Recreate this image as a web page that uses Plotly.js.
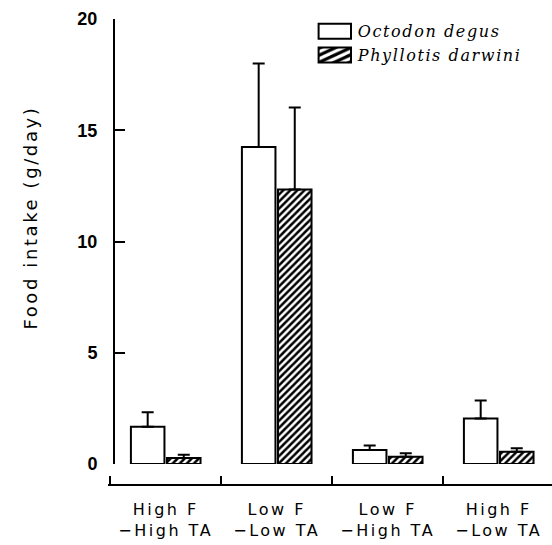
<!DOCTYPE html>
<html>
<head>
<meta charset="utf-8">
<script src="https://cdn.plot.ly/plotly-3.0.1.min.js"></script>
<style>
html,body{margin:0;padding:0;background:#fff;}
#chart{width:552px;height:545px;}
.ylabeltext{letter-spacing:2.6px;}
g.xtick text{letter-spacing:2.5px;}
.legendtext{letter-spacing:1.6px;}
</style>
</head>
<body>
<div id="chart"></div>
<script>
// Data
const categories = ["High F<br>\u2212High TA", "Low F<br>\u2212Low TA", "Low F<br>\u2212High TA", "High F<br>\u2212Low TA"];
const seriesNames = ["Octodon degus", "Phyllotis darwini"];
const octodonValues = [1.68, 14.25, 0.63, 2.05];
const octodonErrors = [0.65, 3.75, 0.20, 0.80];
const phyllotisValues = [0.27, 12.34, 0.33, 0.55];
const phyllotisErrors = [0.15, 3.68, 0.15, 0.16];
const yTickVals = [0, 5, 10, 15, 20];
const yAxisTitle = 'Food intake (g/day)';

const zeros = categories.map(() => 0);

const traceO = {
  type: 'bar', name: seriesNames[0], x: categories, y: octodonValues,
  marker: {color: 'white', line: {color: 'black', width: 2}},
  error_y: {type: 'data', symmetric: false, array: octodonErrors, arrayminus: zeros,
            color: 'black', thickness: 2, width: 6}
};
const traceP = {
  type: 'bar', name: seriesNames[1], x: categories, y: phyllotisValues,
  marker: {color: 'white', line: {color: 'black', width: 2},
           pattern: {shape: '/', bgcolor: 'white', fgcolor: 'black', size: 5, solidity: 0.5}},
  error_y: {type: 'data', symmetric: false, array: phyllotisErrors, arrayminus: zeros,
            color: 'black', thickness: 2, width: 6}
};

const layout = {
  width: 552, height: 545,
  margin: {l: 108, r: 0, t: 19, b: 60},
  paper_bgcolor: 'white', plot_bgcolor: 'white',
  barmode: 'group', bargap: 0.35, bargroupgap: 0.07,
  showlegend: true,
  legend: {x: 0.45, y: 1.01, xanchor: 'left', yanchor: 'top', bgcolor: 'rgba(0,0,0,0)',
           font: {family: 'DejaVu Serif', size: 16, color: 'black', style: 'italic'},
           tracegroupgap: 0, itemwidth: 40},
  xaxis: {
    type: 'category', range: [-0.52, 3.48], domain: [0, 1],
    anchor: 'free', position: 0,
    showline: true, linecolor: 'black', linewidth: 2,
    tickson: 'boundaries', ticks: 'inside', ticklen: 8, tickwidth: 2, tickcolor: 'black',
    ticklabelstandoff: 10,
    tickfont: {family: 'DejaVu Sans', size: 16, color: 'black'},
    showgrid: false, zeroline: false, fixedrange: true
  },
  yaxis: {
    range: [0, 20], domain: [0.045, 1], anchor: 'free', position: 0.0135,
    tickvals: yTickVals, ticktext: yTickVals.map(String),
    showline: true, linecolor: 'black', linewidth: 2,
    ticks: 'inside', ticklen: 10, tickwidth: 2, tickcolor: 'black',
    ticklabelstandoff: 12,
    tickfont: {family: 'Liberation Sans', size: 18, color: 'black', weight: 'bold'},
    showgrid: false, zeroline: false, fixedrange: true
  },
  annotations: [{
    text: yAxisTitle, xref: 'paper', yref: 'paper', x: -0.176, y: 0.575,
    xanchor: 'center', yanchor: 'middle', textangle: -90, showarrow: false,
    font: {family: 'DejaVu Sans', size: 18, color: 'black'}
  }]
};

Plotly.newPlot('chart', [traceO, traceP], layout, {displayModeBar: false, staticPlot: true}).then(() => {
  document.querySelectorAll('#chart .annotation-text').forEach(t => t.classList.add('ylabeltext'));
  return Plotly.relayout('chart', {});
}).then(() => {
  // widen the legend swatches into rectangles like the reference
  document.querySelectorAll('#chart .legendpoints path').forEach(p => {
    const tr = p.getAttribute('transform') || '';
    p.setAttribute('transform', tr + ' translate(2,0) scale(2.7,1.25)');
    p.style.vectorEffect = 'non-scaling-stroke';
  });
});
</script>
</body>
</html>
